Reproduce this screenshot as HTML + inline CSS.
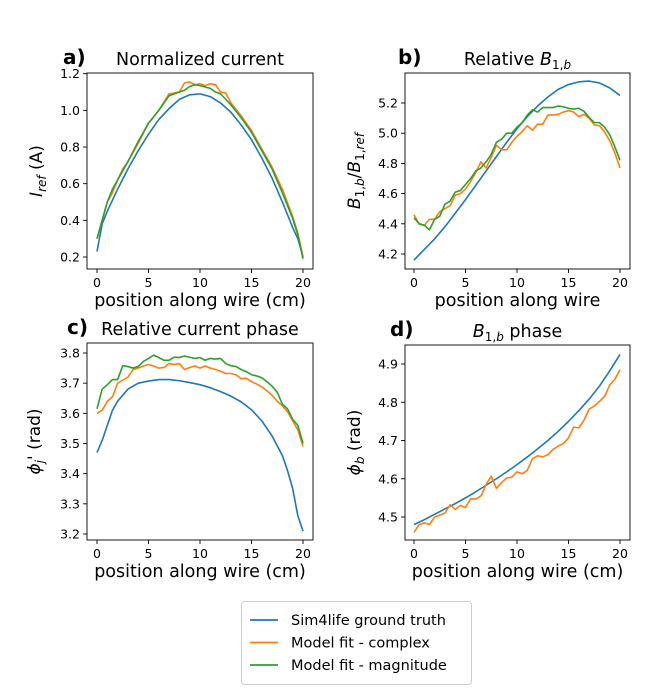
<!DOCTYPE html>
<html><head><meta charset="utf-8"><style>
body{margin:0;background:#fff;}
svg{display:block;font-family:"DejaVu Sans","Liberation Sans",sans-serif;}
</style></head><body>
<svg id="fig" width="648" height="698" viewBox="0 0 648 698"></svg>
<script>
// ---- data ----
const blueAx=[0,0.5,1,2,3,4,5,6,7,8,9,10,11,12,13,14,15,16,17,18,19,19.5,20];
const blueAy=[0.23,0.38,0.45,0.57,0.68,0.78,0.87,0.95,1.01,1.06,1.085,1.09,1.075,1.04,0.99,0.92,0.84,0.74,0.63,0.5,0.36,0.3,0.2];
const orangeAx=[0,1,1.5,2,2.5,3,4,5,6,7,8,8.5,9,9.5,10,10.5,11,11.5,12,12.5,13,14,15,16,17,18,19,19.5,20];
const orangeAy=[0.3,0.5,0.55,0.62,0.68,0.72,0.82,0.93,1.0,1.09,1.1,1.15,1.155,1.14,1.145,1.135,1.145,1.14,1.1,1.095,1.04,0.97,0.89,0.79,0.69,0.57,0.42,0.33,0.2];
const greenAx=[0,1,1.5,2,3,4,5,6,7,8,8.5,9,9.5,10,11,11.5,12,13,14,15,16,17,18,19,19.5,20];
const greenAy=[0.3,0.5,0.57,0.62,0.72,0.83,0.93,1.0,1.08,1.1,1.11,1.13,1.14,1.135,1.12,1.1,1.09,1.03,0.96,0.88,0.78,0.68,0.55,0.41,0.32,0.19];

const halfX=[0,0.5,1,1.5,2,2.5,3,3.5,4,4.5,5,5.5,6,6.5,7,7.5,8,8.5,9,9.5,10,10.5,11,11.5,12,12.5,13,13.5,14,14.5,15,15.5,16,16.5,17,17.5,18,18.5,19,19.5,20];

const blueBx=[0,1,2,3,4,5,6,7,8,9,10,11,12,13,14,15,16,17,18,19,20];
const blueBy=[4.16,4.23,4.3,4.38,4.47,4.56,4.655,4.75,4.845,4.94,5.03,5.11,5.18,5.24,5.29,5.322,5.34,5.345,5.333,5.3,5.25];
const orangeBy=[4.46,4.4,4.39,4.43,4.43,4.48,4.5,4.52,4.59,4.6,4.63,4.68,4.74,4.81,4.77,4.84,4.92,4.89,4.89,4.94,4.98,5.01,5.05,5.02,5.06,5.06,5.12,5.12,5.125,5.14,5.15,5.14,5.11,5.125,5.1,5.055,5.05,5.01,4.95,4.87,4.77];
const greenBy=[4.44,4.4,4.39,4.36,4.43,4.45,4.53,4.55,4.61,4.62,4.66,4.7,4.75,4.77,4.81,4.86,4.94,4.96,5.0,5.0,5.04,5.07,5.12,5.155,5.14,5.17,5.17,5.17,5.18,5.175,5.165,5.16,5.165,5.145,5.105,5.07,5.07,5.04,4.99,4.91,4.82];

const blueCx=[0,0.5,1,1.5,2,3,4,5,6,7,8,9,10,11,12,13,14,15,16,17,18,18.5,19,19.5,20];
const blueCy=[3.47,3.51,3.56,3.61,3.64,3.68,3.70,3.707,3.712,3.712,3.708,3.702,3.695,3.685,3.672,3.657,3.638,3.612,3.575,3.525,3.46,3.41,3.35,3.26,3.21];
const orangeCy=[3.6,3.61,3.64,3.655,3.7,3.71,3.72,3.745,3.75,3.757,3.762,3.757,3.75,3.752,3.765,3.762,3.765,3.745,3.752,3.757,3.75,3.757,3.75,3.745,3.74,3.732,3.732,3.728,3.715,3.716,3.705,3.697,3.688,3.675,3.66,3.64,3.625,3.605,3.575,3.545,3.49];
const greenCy=[3.615,3.68,3.695,3.712,3.712,3.758,3.755,3.75,3.755,3.772,3.782,3.793,3.785,3.776,3.776,3.786,3.785,3.79,3.786,3.782,3.785,3.776,3.782,3.78,3.782,3.765,3.758,3.755,3.745,3.738,3.728,3.724,3.718,3.705,3.69,3.67,3.63,3.615,3.58,3.56,3.5];

const blueDx=[0,1,2,3,4,5,6,7,8,9,10,11,12,13,14,15,16,17,18,19,20];
const blueDy=[4.48,4.493,4.507,4.521,4.535,4.55,4.566,4.583,4.6,4.618,4.637,4.657,4.678,4.7,4.724,4.75,4.778,4.808,4.842,4.882,4.925];
const orangeDy=[4.46,4.48,4.485,4.48,4.5,4.505,4.51,4.532,4.52,4.53,4.525,4.548,4.547,4.555,4.585,4.607,4.575,4.59,4.602,4.604,4.618,4.613,4.622,4.652,4.66,4.657,4.663,4.677,4.685,4.692,4.707,4.735,4.733,4.753,4.782,4.79,4.802,4.815,4.845,4.86,4.885];

const xTicks=[0,5,10,15,20];
const ticksA=[0.2,0.4,0.6,0.8,1.0,1.2];
const ticksB=[4.2,4.4,4.6,4.8,5.0,5.2];
const ticksC=[3.2,3.3,3.4,3.5,3.6,3.7,3.8];
const ticksD=[4.5,4.6,4.7,4.8,4.9];
const legendLabels=["Sim4life ground truth","Model fit - complex","Model fit - magnitude"];

const C={blue:"#1f77b4",orange:"#ff7f0e",green:"#2ca02c"};
const NS="http://www.w3.org/2000/svg";
const svg=document.getElementById('fig');
function mk(tag,attrs,parent,text){const e=document.createElementNS(NS,tag);for(const k in attrs)e.setAttribute(k,attrs[k]);if(text!==undefined)e.textContent=text;(parent||svg).appendChild(e);return e;}

function panel(p){
  const g=mk('g',{});
  
  
  const sx=v=>p.x0+(v-0)*(p.x20-p.x0)/20;
  const sy=v=>p.yA+(v-p.vA)*(p.yB-p.yA)/(p.vB-p.vA);
  const fmt=v=>v.toFixed(1);
  p.series.forEach(s=>{
    const pts=s.x.map((xv,i)=>sx(xv).toFixed(2)+','+sy(s.y[i]).toFixed(2)).join(' ');
    const pl=mk('polyline',{points:pts,fill:'none',stroke:s.c,'stroke-width':1.6,'stroke-linejoin':'round'},g);
    
    
  });
  const fr=mk('rect',{x:p.L,y:p.T,width:p.R-p.L,height:p.B-p.T,fill:'none',stroke:'#000','stroke-width':0.9},g);
  
  
  xTicks.forEach(t=>{
    const x=sx(t);
    mk('line',{x1:x,y1:p.B,x2:x,y2:p.B+4,stroke:'#000','stroke-width':0.9},g);
    const tl=mk('text',{x:x,y:p.B+18,'font-size':12.5,'text-anchor':'middle',fill:'#000'},g,String(t));
    
    
  });
  p.ticks.forEach(t=>{
    const y=sy(t);
    mk('line',{x1:p.L-4,y1:y,x2:p.L,y2:y,stroke:'#000','stroke-width':0.9},g);
    const tl=mk('text',{x:p.L-7,y:y+4.5,'font-size':12.5,'text-anchor':'end',fill:'#000'},g,fmt(t));
    
    
  });
  const cx=(p.L+p.R)/2;
  const tt=mk('text',{x:cx,y:p.T-8,'font-size':17.5,'text-anchor':'middle',fill:'#000'},g);
  tt.innerHTML=p.title;
  
  
  const lt=mk('text',{x:p.letterX,y:p.T-9,'font-size':20,'font-weight':'bold',fill:'#000'},g,p.letter);
  
  
  const xl=mk('text',{x:cx,y:p.B+37,'font-size':17.5,'text-anchor':'middle',fill:'#000'},g,p.xlabel);
  
  
  const my=(p.T+p.B)/2;
  const yl=mk('text',{x:0,y:0,'font-size':17,'text-anchor':'middle',fill:'#000',transform:`translate(${p.ylX},${my}) rotate(-90)`},g);
  yl.innerHTML=p.ylabel;
  
  
}

panel({name:'panel-a-normalized-current',L:87,R:313,T:73,B:269,x0:97,x20:303,vA:1.2,yA:73.7,vB:0.2,yB:257,ticks:ticksA,
  title:'Normalized current',letter:'a)',letterX:63,xlabel:'position along wire (cm)',ylX:42,
  ylabel:'<tspan font-style="italic">I</tspan><tspan font-style="italic" font-size="12" dy="4">ref</tspan><tspan dy="-4"> (A)</tspan>',
  series:[{x:blueAx,y:blueAy,c:C.blue,n:'line-ground-truth'},{x:orangeAx,y:orangeAy,c:C.orange,n:'line-model-complex'},{x:greenAx,y:greenAy,c:C.green,n:'line-model-magnitude'}]});
panel({name:'panel-b-relative-b1b',L:405,R:630,T:73,B:269,x0:414,x20:620,vA:5.2,yA:103,vB:4.2,yB:254,ticks:ticksB,
  title:'Relative <tspan font-style="italic">B</tspan><tspan font-size="12" dy="4">1,</tspan><tspan font-size="12" font-style="italic">b</tspan>',letter:'b)',letterX:398,xlabel:'position along wire',ylX:360,
  ylabel:'<tspan font-style="italic">B</tspan><tspan font-size="12" dy="4">1,<tspan font-style="italic">b</tspan></tspan><tspan dy="-4">/</tspan><tspan font-style="italic">B</tspan><tspan font-size="12" dy="4">1,<tspan font-style="italic">ref</tspan></tspan>',
  series:[{x:blueBx,y:blueBy,c:C.blue,n:'line-ground-truth'},{x:halfX,y:orangeBy,c:C.orange,n:'line-model-complex'},{x:halfX,y:greenBy,c:C.green,n:'line-model-magnitude'}]});
panel({name:'panel-c-current-phase',L:87,R:313,T:343,B:540,x0:97,x20:303,vA:3.8,yA:353,vB:3.2,yB:534,ticks:ticksC,
  title:'Relative current phase',letter:'c)',letterX:67,xlabel:'position along wire (cm)',ylX:40,
  ylabel:'<tspan font-style="italic">ϕ</tspan><tspan font-style="italic" font-size="12" dy="4">j</tspan><tspan dy="-4">\' (rad)</tspan>',
  series:[{x:blueCx,y:blueCy,c:C.blue,n:'line-ground-truth'},{x:halfX,y:orangeCy,c:C.orange,n:'line-model-complex'},{x:halfX,y:greenCy,c:C.green,n:'line-model-magnitude'}]});
panel({name:'panel-d-b1b-phase',L:405,R:630,T:345,B:540,x0:414,x20:620,vA:4.9,yA:364,vB:4.5,yB:517,ticks:ticksD,
  title:'<tspan font-style="italic">B</tspan><tspan font-size="12" dy="4">1,</tspan><tspan font-size="12" font-style="italic">b</tspan><tspan dy="-4"> phase</tspan>',letter:'d)',letterX:390,xlabel:'position along wire (cm)',ylX:360,
  ylabel:'<tspan font-style="italic">ϕ</tspan><tspan font-style="italic" font-size="12" dy="4">b</tspan><tspan dy="-4"> (rad)</tspan>',
  series:[{x:blueDx,y:blueDy,c:C.blue,n:'line-ground-truth'},{x:halfX,y:orangeDy,c:C.orange,n:'line-model-complex'}]});

// legend
const lg=mk('g',{});


mk('rect',{x:241.5,y:601.5,width:230,height:83,rx:3,fill:'#fff',stroke:'#ccc','stroke-width':1},lg);
[C.blue,C.orange,C.green].forEach((c,i)=>{
  const y=620+i*22.5;
  const e=mk('g',{},lg);
  
  
  mk('line',{x1:250,y1:y,x2:278,y2:y,stroke:c,'stroke-width':1.8},e);
  mk('text',{x:291,y:y+5,'font-size':14.5,fill:'#000'},e,legendLabels[i]);
});
</script>
</body></html>
